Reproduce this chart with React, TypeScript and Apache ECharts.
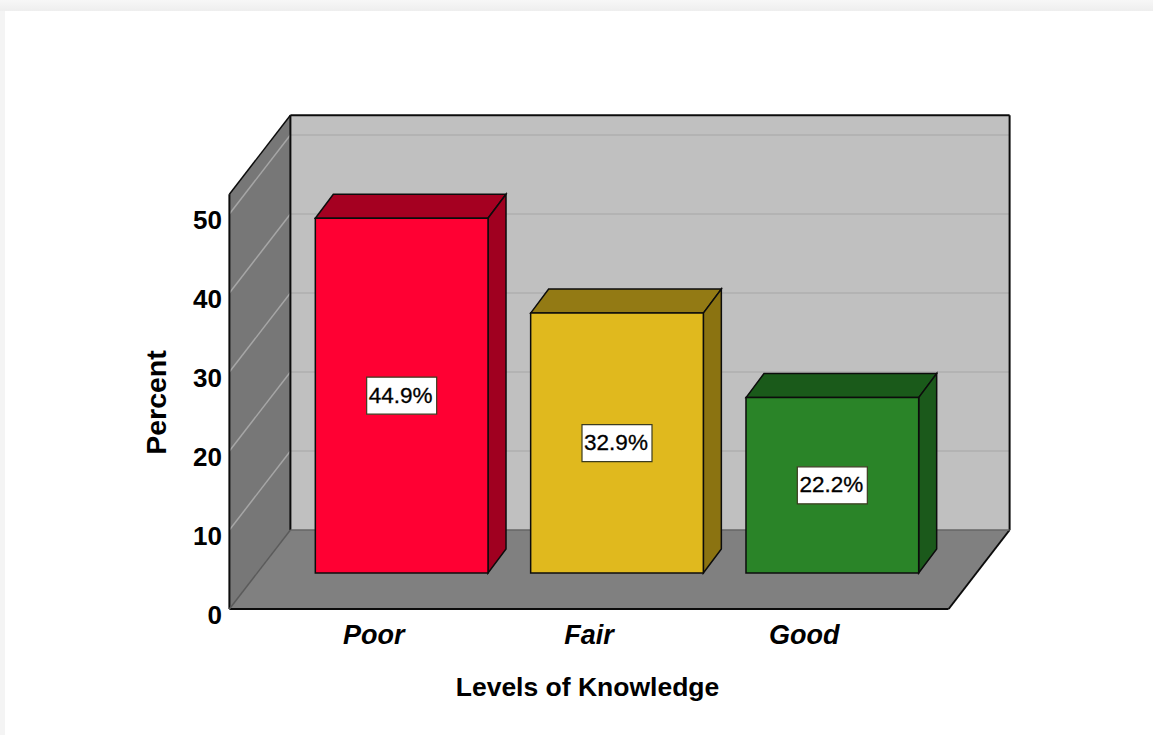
import React, { useEffect, useRef } from "react";
import * as echarts from "echarts";

const categories = ["Poor", "Fair", "Good"];
const percents = [44.9, 32.9, 22.2];
const percentLabels = ["44.9%", "32.9%", "22.2%"];
const frontColors = ["#ff0033", "#e0b91e", "#2a8428"];
const topColors = ["#a50021", "#937a14", "#1a5a1a"];
const sideColors = ["#a00020", "#8b7311", "#1b591b"];
const gridValues = [10, 20, 30, 40, 50];
const wallTopValue = 52.5;

const FONT = '"Liberation Sans", Arial, sans-serif';
const LINE = "#0c0c0c";
const TEXT = "#000000";
const DX = 61;
const DY = -79;
const BAR_DX = 18;
const BAR_DY = -24;
const BAR_SHIFT_X = 28;
const BAR_SHIFT_Y = -36;

function poly(points: number[][], fill: string, stroke: string | null, lw = 1.5) {
  return {
    type: "polygon",
    shape: { points },
    style: { fill, stroke: stroke ?? "none", lineWidth: lw },
  };
}
function seg(x1: number, y1: number, x2: number, y2: number, stroke: string, lw = 1.5) {
  return { type: "line", shape: { x1, y1, x2, y2 }, style: { stroke, lineWidth: lw, fill: "none" } };
}

function renderWalls(_p: any, api: any) {
  const band = api.size([1, 0])[0];
  const cx0 = api.coord([0, 0])[0];
  const cx2 = api.coord([2, 0])[0];
  const y0 = api.coord([0, 0])[1];
  const yT = api.coord([0, wallTopValue])[1];
  const xL = cx0 - 0.67 * band;
  const xR = cx2 + 0.67 * band;
  const children: any[] = [
    poly([[xL + DX, yT + DY], [xR + DX, yT + DY], [xR + DX, y0 + DY], [xL + DX, y0 + DY]], "#c0c0c0", null),
    poly([[xL, yT], [xL + DX, yT + DY], [xL + DX, y0 + DY], [xL, y0]], "#777777", null),
    poly([[xL, y0], [xL + DX, y0 + DY], [xR + DX, y0 + DY], [xR, y0]], "#808080", null),
  ];
  gridValues.forEach((v) => {
    const y = api.coord([0, v])[1];
    children.push(seg(xL + DX, y + DY, xR + DX, y + DY, "#b3b3b3", 2));
    children.push(seg(xL, y, xL + DX, y + DY, "#a6a6a6", 1.5));
  });
  children.push(seg(xL, yT, xL + DX, yT + DY, LINE));
  children.push(seg(xL + DX, yT + DY, xR + DX, yT + DY, LINE, 2));
  children.push(seg(xL + DX, yT + DY, xL + DX, y0 + DY, LINE, 2));
  children.push(seg(xR + DX, yT + DY, xR + DX, y0 + DY, LINE, 2));
  children.push(seg(xL, yT, xL, y0, LINE, 2));
  children.push(seg(xL, y0, xR, y0, LINE, 2));
  children.push(seg(xR, y0, xR + DX, y0 + DY, LINE, 2));
  children.push(seg(xL, y0, xL + DX, y0 + DY, "#5a5a5a", 1.5));
  children.push(seg(xL + DX, y0 + DY, xR + DX, y0 + DY, "#666666", 1.5));
  return { type: "group", children };
}

function renderBar(p: any, api: any) {
  const i = p.dataIndex;
  const band = api.size([1, 0])[0];
  const w = band * 0.802;
  const base = api.coord([api.value(0), 0]);
  const top = api.coord([api.value(0), api.value(1)]);
  const cx = base[0] + BAR_SHIFT_X;
  const x1 = cx - w / 2;
  const x2 = cx + w / 2;
  const yB = base[1] + BAR_SHIFT_Y;
  const yT = top[1] + BAR_SHIFT_Y;
  const cy = (yB + yT) / 2;
  return {
    type: "group",
    children: [
      poly([[x1, yT], [x1 + BAR_DX, yT + BAR_DY], [x2 + BAR_DX, yT + BAR_DY], [x2, yT]], topColors[i], LINE),
      poly([[x2, yT], [x2 + BAR_DX, yT + BAR_DY], [x2 + BAR_DX, yB + BAR_DY], [x2, yB]], sideColors[i], LINE),
      poly([[x1, yT], [x2, yT], [x2, yB], [x1, yB]], frontColors[i], LINE),
      {
        type: "rect",
        shape: { x: cx - 35, y: cy - 18.5, width: 70, height: 37 },
        style: { fill: "#ffffff", stroke: "#3c3c20", lineWidth: 1.2 },
      },
      {
        type: "text",
        x: cx - 1,
        y: cy - 0.5,
        style: {
          text: percentLabels[i],
          fill: TEXT,
          stroke: TEXT,
          lineWidth: 0.3,
          font: `400 22.5px ${FONT}`,
          align: "center",
          verticalAlign: "middle",
        },
      },
    ],
  };
}

export default function App() {
  const ref = useRef<HTMLDivElement>(null);
  useEffect(() => {
    const chart = echarts.init(ref.current!, undefined, { renderer: "svg" });
    chart.setOption({
      animation: false,
      grid: { left: 266, top: 214, width: 646, height: 395 },
      xAxis: {
        type: "category",
        data: categories,
        axisLine: { show: false },
        axisTick: { show: false },
        axisLabel: {
          color: TEXT,
          fontFamily: FONT,
          fontWeight: "bold",
          fontStyle: "italic",
          fontSize: 27,
          margin: 12,
        },
        name: "Levels of Knowledge",
        nameLocation: "middle",
        nameGap: 64,
        nameTextStyle: {
          color: TEXT,
          fontFamily: FONT,
          fontWeight: "bold",
          fontSize: 26.5,
          padding: [0, 3, 0, 0],
        },
      },
      yAxis: {
        type: "value",
        min: 0,
        max: 50,
        interval: 10,
        offset: 36,
        splitLine: { show: false },
        axisLine: { show: false },
        axisTick: { show: false },
        axisLabel: {
          color: TEXT,
          fontFamily: FONT,
          fontWeight: "bold",
          fontSize: 26,
          margin: 8,
          verticalAlign: "top",
          padding: [-7, 0, 0, 0],
        },
        name: "Percent",
        nameLocation: "middle",
        nameGap: 60,
        nameMoveOverlap: false,
        nameTextStyle: {
          color: TEXT,
          fontFamily: FONT,
          fontWeight: "bold",
          fontSize: 28.5,
          padding: [0, 0, 0, 18],
        },
      },
      series: [
        { type: "custom", silent: true, clip: false, z: 1, renderItem: renderWalls, data: [[0, wallTopValue]] },
        {
          type: "custom",
          silent: true,
          clip: false,
          z: 2,
          renderItem: renderBar,
          encode: { x: 0, y: 1 },
          data: percents.map((v, i) => [i, v]),
        },
      ],
    });
    return () => chart.dispose();
  }, []);
  return (
    <div
      style={{
        position: "absolute",
        left: 0,
        top: 0,
        width: 1153,
        height: 735,
        overflow: "hidden",
        background: "linear-gradient(180deg,#f7f7f7,#eeeeee 11px,#f4f4f4 11px)",
      }}
    >
      <div style={{ position: "absolute", left: 5, top: 11, right: 0, bottom: 0, background: "#ffffff" }} />
      <div ref={ref} style={{ position: "absolute", left: 0, top: 0, width: 1153, height: 735 }} />
    </div>
  );
}
